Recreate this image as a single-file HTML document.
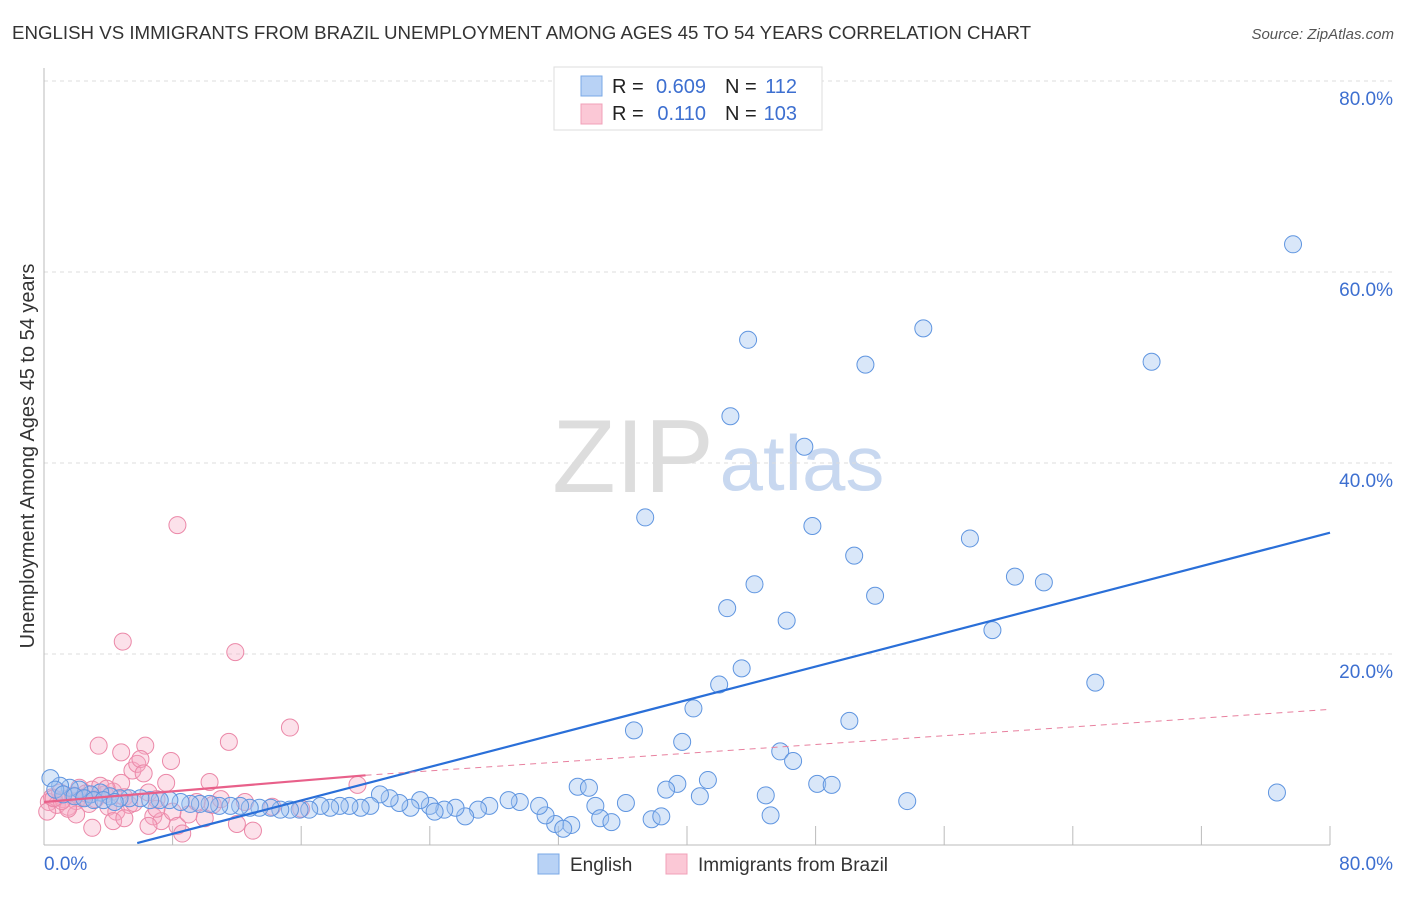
<!DOCTYPE html>
<html><head><meta charset="utf-8"><style>
body{margin:0;background:#fff;font-family:"Liberation Sans",sans-serif}
svg text{font-family:"Liberation Sans",sans-serif}
</style></head><body>
<svg id="chart" width="1406" height="892">
<text x="12" y="39" font-size="18.7" fill="#333">ENGLISH VS IMMIGRANTS FROM BRAZIL UNEMPLOYMENT AMONG AGES 45 TO 54 YEARS CORRELATION CHART</text>
<text x="1394" y="39" font-size="15" fill="#555" font-style="italic" text-anchor="end">Source: ZipAtlas.com</text>
<text x="0" y="0" transform="translate(34,456) rotate(-90)" font-size="20" fill="#333" text-anchor="middle">Unemployment Among Ages 45 to 54 years</text>
<g><text x="633" y="492" font-size="104" fill="#ddd" font-family="Liberation Serif" text-anchor="middle">ZIP</text><text x="802" y="490" font-size="78" fill="#c8d8f0" text-anchor="middle">atlas</text></g>
<g id="grid"></g><g id="axes"></g><g id="pts"></g><g id="trend"></g>
<g>
<rect x="554" y="67" width="268" height="63" fill="#fff" stroke="#ddd"/>
<rect x="581" y="76" width="21" height="20" fill="#b8d2f5" stroke="#7aa8e6"/>
<rect x="581" y="104" width="21" height="20" fill="#fbc8d6" stroke="#f0a0b8"/>
<g font-size="20" fill="#222">
<text x="612" y="93">R =</text><text x="706" y="93" text-anchor="end" fill="#3d6fd0">0.609</text><text x="725" y="93">N =</text><text x="797" y="93" text-anchor="end" fill="#3d6fd0">112</text>
<text x="612" y="120">R =</text><text x="706" y="120" text-anchor="end" fill="#3d6fd0">0.110</text><text x="725" y="120">N =</text><text x="797" y="120" text-anchor="end" fill="#3d6fd0">103</text>
</g>
</g>
<g>
<rect x="538" y="854" width="21" height="20" fill="#b8d2f5" stroke="#7aa8e6"/>
<text x="570" y="871" font-size="19" fill="#333">English</text>
<rect x="666" y="854" width="21" height="20" fill="#fbc8d6" stroke="#f0a0b8"/>
<text x="698" y="871" font-size="19" fill="#333">Immigrants from Brazil</text>
</g>
</svg>
<script>
const yTicks=[20,40,60,80];
const yTickLabels=["20.0%","40.0%","60.0%","80.0%"];
const xEnds=["0.0%","80.0%"];
const englishX=[77.7,54.7,43.8,51.1,68.9,42.7,47.3,37.4,47.8,50.4,57.6,60.4,62.2,44.2,51.7,42.5,46.2,59.0,43.4,42.0,65.4,40.4,50.1,36.7,39.7,45.8,46.6,41.3,39.4,38.7,33.2,33.9,48.1,49.0,40.8,44.9,53.7,76.7,45.2,37.8,38.4,36.2,34.3,34.6,35.3,32.8,31.8,32.3,31.2,30.8,29.6,28.9,27.7,27.0,26.2,25.6,24.9,24.0,23.4,22.8,22.1,21.5,20.9,20.3,19.7,19.0,18.4,17.8,17.2,16.5,15.9,15.3,14.7,14.1,13.4,12.8,12.2,11.6,10.9,10.3,9.7,9.1,8.5,7.8,7.2,6.6,6.0,5.3,4.7,4.1,3.5,2.9,2.2,1.6,1.0,0.4,0.7,1.2,1.9,2.5,3.1,3.7,4.4,24.3];
const englishY=[62.9,54.1,52.9,50.3,50.6,44.9,41.7,34.3,33.4,30.3,32.1,28.1,27.5,27.3,26.1,24.8,23.5,22.5,18.5,16.8,17.0,14.3,13.0,12.0,10.8,9.8,8.8,6.8,6.4,5.8,6.1,6.0,6.4,6.3,5.1,5.2,4.6,5.5,3.1,2.7,3.0,4.4,4.1,2.8,2.4,2.1,2.2,1.7,3.1,4.1,4.5,4.7,4.1,3.7,3.0,3.9,3.7,4.1,4.7,3.9,4.4,4.9,5.3,4.1,3.9,4.1,4.1,3.9,4.1,3.7,3.7,3.7,3.7,3.9,3.9,3.9,4.1,4.1,4.1,4.3,4.3,4.3,4.5,4.7,4.7,4.7,4.9,4.9,4.9,5.1,5.5,5.3,5.8,6.0,6.2,7.0,5.8,5.3,5.1,4.9,4.7,4.7,4.5,3.5];
const brazilX=[8.3,4.9,11.9,15.3,11.5,6.3,3.4,7.9,4.8,10.3,19.5,0.3,0.5,0.8,1.0,1.2,1.5,1.8,2.0,2.2,2.5,2.8,3.0,3.2,3.5,3.8,4.0,4.3,4.5,4.8,5.0,5.3,5.5,5.8,6.0,6.2,6.5,6.8,7.0,7.3,7.6,8.0,8.3,8.6,9.0,9.5,10.0,10.5,11.0,12.0,12.5,13.0,14.2,16.0,3.0,4.3,2.0,5.0,6.5,7.0,1.5,0.2,2.6,3.9,5.6,1.1,0.6];
const brazilY=[33.5,21.3,20.2,12.3,10.8,10.4,10.4,8.8,9.7,6.6,6.3,4.5,5.0,4.2,5.5,4.8,4.0,5.2,4.6,6.0,5.0,4.3,5.8,4.8,6.2,5.3,4.0,5.6,3.5,6.5,5.0,4.2,7.8,8.5,9.0,7.5,5.5,3.0,4.8,2.5,6.5,3.5,2.0,1.2,3.2,4.5,2.8,4.2,4.8,2.2,4.5,1.5,4.0,3.8,1.8,2.5,3.2,2.8,2.0,3.8,3.8,3.5,5.4,5.9,4.4,4.6,4.9];
const englishTrend=[[5.8,0.2],[80,32.7]];
const brazilTrend=[[0,4.5],[20,7.3],[80,14.2]];
const X=v=>44+v*16.075, Y=v=>845-v*9.55;
const NS="http://www.w3.org/2000/svg";
function mk(tag,attrs,parent){const e=document.createElementNS(NS,tag);for(const k in attrs)e.setAttribute(k,attrs[k]);document.getElementById(parent).appendChild(e);return e;}
yTicks.forEach((t,i)=>{
 const g=mk('line',{x1:44,x2:1394,y1:Y(t),y2:Y(t),stroke:'#ddd','stroke-dasharray':'4,4'},'grid');
 
 
 const l=mk('text',{x:1393,y:Y(t)+24,'font-size':19,fill:'#3d6fd0','text-anchor':'end'},'axes');
 l.textContent=yTickLabels[i];
 
 
});
let a=mk('line',{x1:44,x2:44,y1:68,y2:845,stroke:'#bbb'},'axes');


a=mk('line',{x1:44,x2:1330,y1:845,y2:845,stroke:'#bbb'},'axes');


for(let i=1;i<=10;i++){const t=mk('line',{x1:X(i*8),x2:X(i*8),y1:826,y2:845,stroke:'#bbb'},'axes');
 
 }
let xl=mk('text',{x:44,y:870,'font-size':19,fill:'#3d6fd0'},'axes');xl.textContent=xEnds[0];


xl=mk('text',{x:1393,y:870,'font-size':19,fill:'#3d6fd0','text-anchor':'end'},'axes');xl.textContent=xEnds[1];


brazilX.forEach((x,i)=>{const c=mk('circle',{cx:X(x),cy:Y(brazilY[i]),r:8.5,fill:'rgba(247,170,195,0.35)',stroke:'#eb88a8','stroke-width':1},'pts');
 
 });
englishX.forEach((x,i)=>{const c=mk('circle',{cx:X(x),cy:Y(englishY[i]),r:8.5,fill:'rgba(160,195,240,0.4)',stroke:'#5f95e0','stroke-width':1},'pts');
 
 });
let tl=mk('line',{x1:X(englishTrend[0][0]),y1:Y(englishTrend[0][1]),x2:X(englishTrend[1][0]),y2:Y(englishTrend[1][1]),stroke:'#2a6fd8','stroke-width':2.2},'trend');


tl=mk('line',{x1:X(brazilTrend[0][0]),y1:Y(brazilTrend[0][1]),x2:X(brazilTrend[1][0]),y2:Y(brazilTrend[1][1]),stroke:'#e8608a','stroke-width':2.2},'trend');


tl=mk('line',{x1:X(brazilTrend[1][0]),y1:Y(brazilTrend[1][1]),x2:X(brazilTrend[2][0]),y2:Y(brazilTrend[2][1]),stroke:'#e8809f','stroke-width':1,'stroke-dasharray':'6,5'},'trend');


</script>
</body></html>
